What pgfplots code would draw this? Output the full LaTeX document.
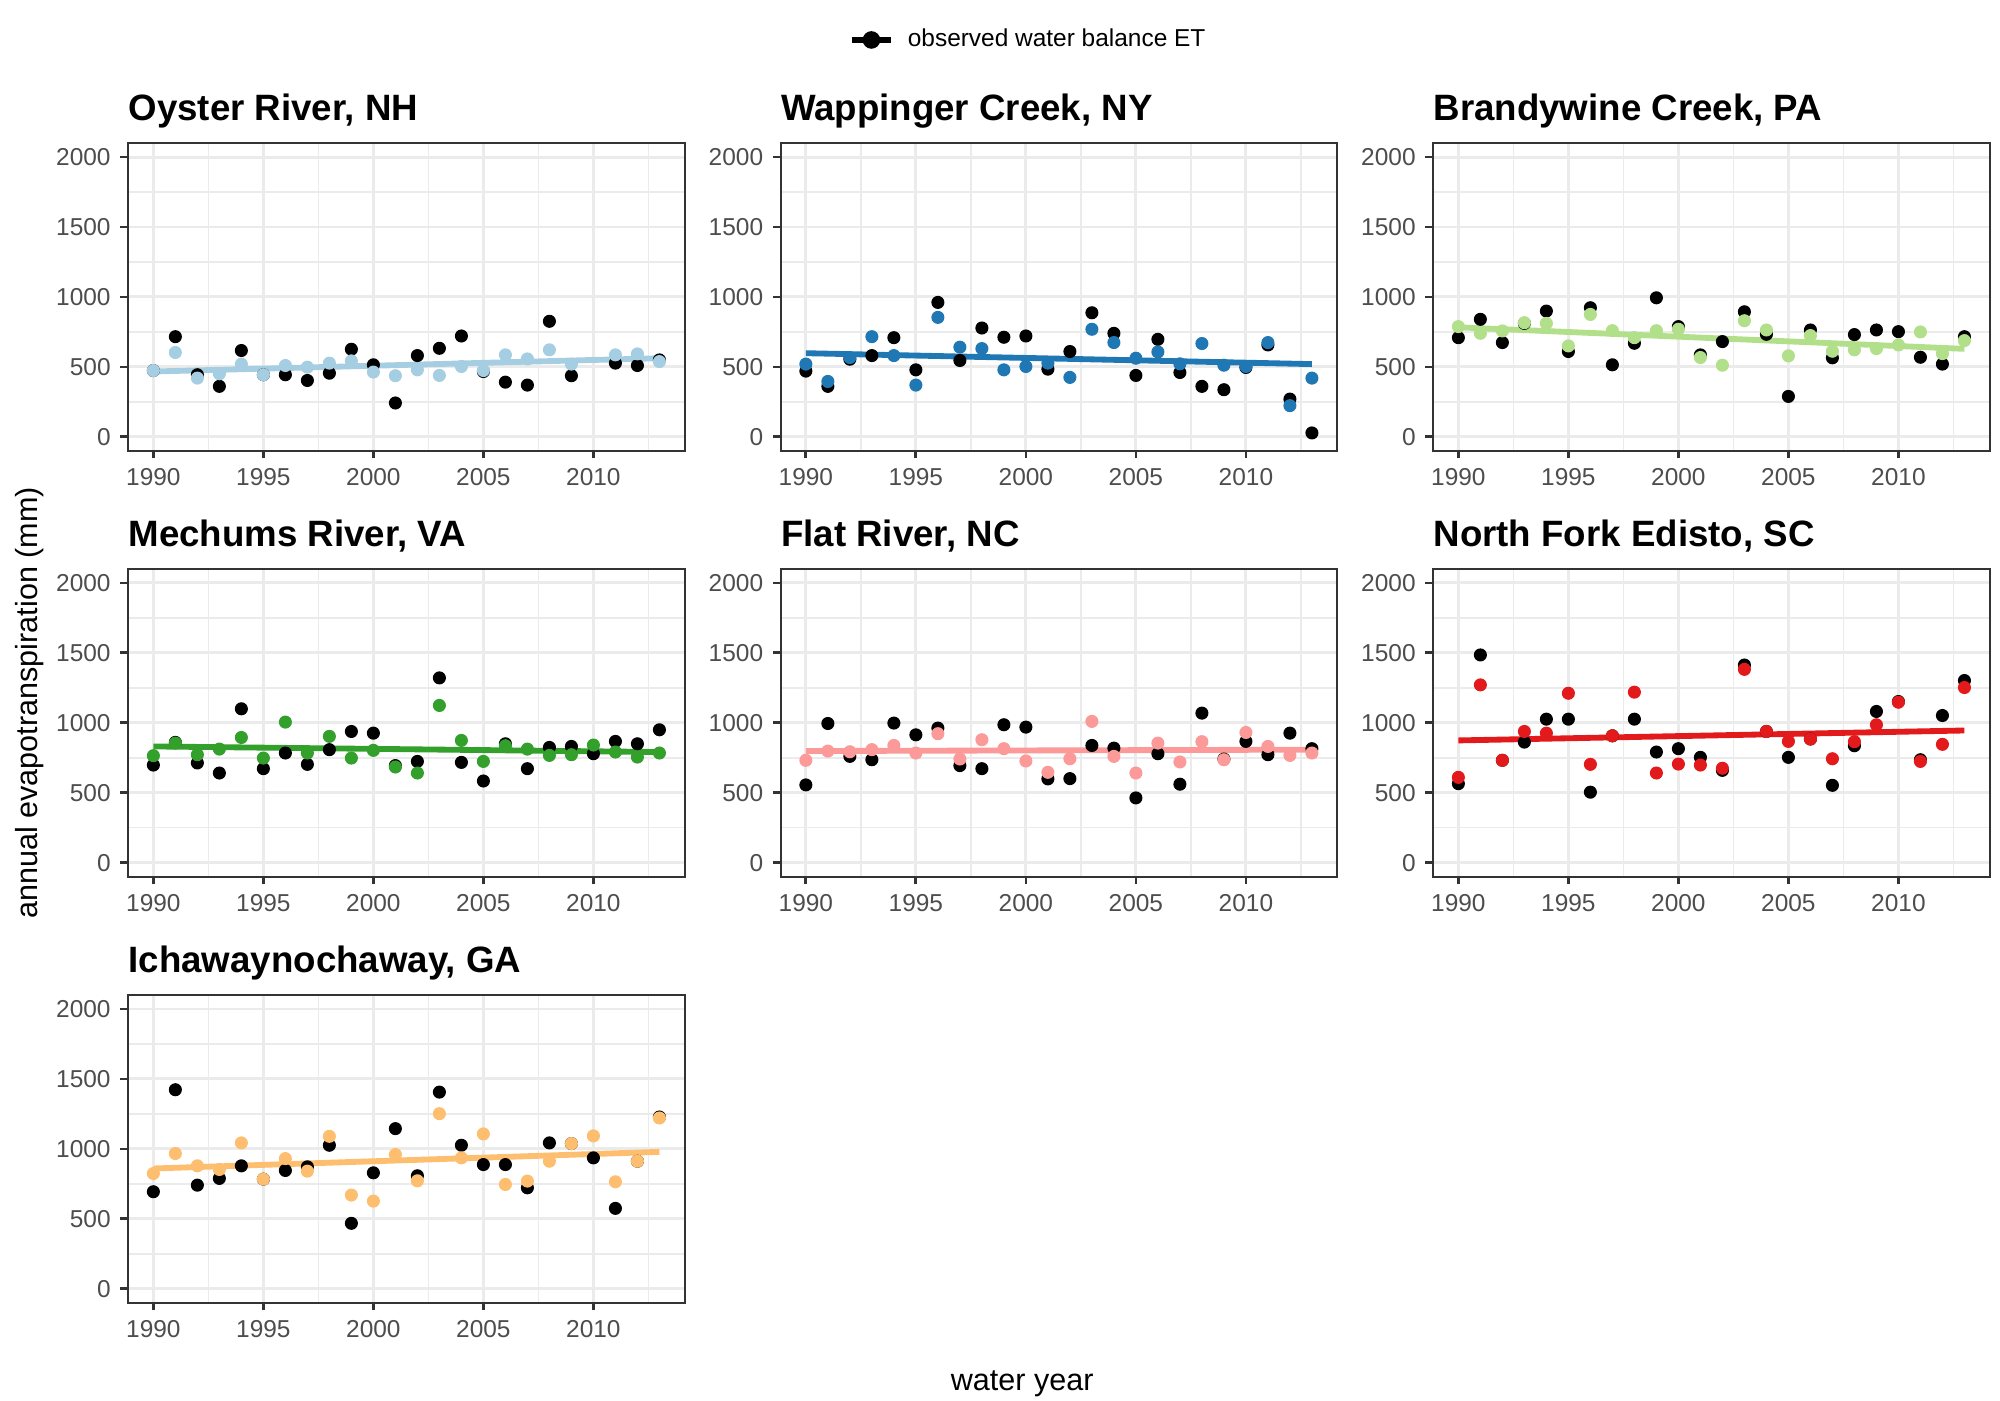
\documentclass[border=0pt]{standalone}
\usepackage{fontspec}
\setmainfont{Liberation Sans}
\usepackage{pgfplots}
\usepackage{pgfplotstable}
\pgfplotsset{compat=1.18}
\definecolor{grey92}{HTML}{EBEBEB}
\definecolor{grey30}{HTML}{4D4D4D}
\definecolor{grey20}{HTML}{333333}
\definecolor{cA}{HTML}{A6CEE3}
\definecolor{cB}{HTML}{1F78B4}
\definecolor{cC}{HTML}{B2DF8A}
\definecolor{cD}{HTML}{33A02C}
\definecolor{cE}{HTML}{FB9A99}
\definecolor{cF}{HTML}{E31A1C}
\definecolor{cG}{HTML}{FDBF6F}

\pgfplotstableread{
year obs mod
1990 474 474
1991 716 603
1992 444 420
1993 361 451
1994 617 520
1995 444 444
1996 444 510
1997 403 498
1998 455 527
1999 626 543
2000 515 463
2001 242 437
2002 581 479
2003 633 439
2004 721 503
2005 467 474
2006 391 586
2007 370 557
2008 826 622
2009 437 520
2011 527 586
2012 510 593
2013 550 538
}\dA
\pgfplotstableread{
year obs mod
1990 470 520
1991 361 396
1992 555 567
1993 581 716
1994 709 581
1995 479 370
1996 961 854
1997 546 641
1998 778 631
1999 712 479
2000 721 503
2001 484 527
2002 610 425
2003 887 769
2004 740 674
2005 439 562
2006 697 607
2007 460 522
2008 361 667
2009 337 512
2010 496 503
2011 657 674
2012 270 223
2013 28 420
}\dB
\pgfplotstableread{
year obs mod
1990 709 788
1991 840 740
1992 674 757
1993 811 816
1994 899 811
1995 610 650
1996 923 875
1997 515 759
1998 669 709
1999 994 759
2000 788 769
2001 586 567
2002 681 512
2003 894 830
2004 733 764
2005 289 579
2006 764 724
2007 565 612
2008 731 622
2009 764 631
2010 752 657
2011 569 750
2012 520 595
2013 716 688
}\dC
\pgfplotstableread{
year obs mod
1990 698 765
1991 860 855
1992 713 772
1993 641 812
1994 1100 895
1995 672 748
1996 784 1005
1997 703 784
1998 808 903
1999 938 748
2000 926 803
2001 694 684
2002 724 641
2003 1321 1124
2004 717 874
2005 584 724
2006 850 836
2007 672 812
2008 824 767
2009 831 772
2010 779 841
2011 867 791
2012 850 755
2013 950 784
}\dD
\pgfplotstableread{
year obs mod
1990 556 732
1991 995 798
1992 760 793
1993 736 808
1994 998 838
1995 914 784
1996 962 922
1997 694 741
1998 672 879
1999 986 815
2000 969 727
2001 599 646
2002 601 743
2003 838 1010
2004 819 760
2005 463 641
2006 779 855
2007 561 720
2008 1069 865
2009 741 736
2010 867 931
2011 772 831
2012 926 767
2013 815 784
}\dE
\pgfplotstableread{
year obs mod
1990 565 610
1991 1485 1271
1992 732 732
1993 862 938
1994 1026 926
1995 1026 1211
1996 504 703
1997 907 907
1998 1026 1219
1999 791 641
2000 815 705
2001 753 698
2002 660 675
2003 1413 1382
2004 938 938
2005 753 867
2006 884 884
2007 553 743
2008 836 865
2009 1081 986
2010 1152 1147
2011 736 724
2012 1052 846
2013 1302 1252
}\dF
\pgfplotstableread{
year obs mod
1990 694 824
1991 1423 967
1992 741 879
1993 789 853
1994 879 1043
1995 784 784
1996 846 931
1997 872 841
1998 1026 1090
1999 468 670
2000 829 627
2001 1145 960
2002 808 772
2003 1406 1252
2004 1026 936
2005 888 1107
2006 888 746
2007 722 770
2008 1043 912
2009 1038 1038
2010 936 1093
2011 575 765
2012 912 912
2013 1228 1221
}\dG

\pgfplotsset{
  panel/.style={
    width=200.4pt, height=110.8pt, scale only axis,
    anchor=north west,
    xmin=1988.85, xmax=2014.15, ymin=-100, ymax=2100,
    xtick={1990,1995,2000,2005,2010},
    ytick={0,500,1000,1500,2000},
    minor xtick={1992.5,1997.5,2002.5,2007.5,2012.5},
    minor ytick={250,750,1250,1750},
    grid=both,
    major grid style={grey92, line width=1.07pt},
    minor grid style={grey92, line width=0.53pt},
    minor tick length=0pt, major tick length=2.75pt, tick align=outside,
    tick pos=left,
    major tick style={grey20, line width=1pt},
    axis line style={grey20, line width=0.7pt},
    ticklabel style={font=\fontsize{8.8}{10}\selectfont, text=grey30},
    /pgf/number format/1000 sep={},
    /pgf/number format/assume math mode=true,
    title style={at={(0,1)}, anchor=base west, yshift=2pt, inner sep=0pt,
      font=\bfseries\fontsize{13.2}{15}\selectfont},
  },
  obsmark/.style={only marks, mark=*, mark size=2.15pt, black, mark options={draw=none, fill=black}, forget plot},
  modmark/.style={only marks, mark=*, mark size=2.15pt, #1, mark options={draw=none, fill=#1}, forget plot},
  trend/.style={no marks, #1, line width=2.1pt, forget plot},
}

\begin{document}
\begin{tikzpicture}
\useasboundingbox (0,0) rectangle (720pt,-504pt);

% Row 1
\begin{axis}[panel, at={(46.1pt,-51.5pt)}, title={Oyster River, NH}]
\addplot[obsmark] table[x=year,y=obs]{\dA};
\addplot[trend=cA] coordinates {(1990,467) (2013,562)};
\addplot[modmark=cA] table[x=year,y=mod]{\dA};
\end{axis}

\begin{axis}[panel, at={(281.0pt,-51.5pt)}, title={Wappinger Creek, NY},
  legend style={at={(0.448,1.335)}, anchor=center, draw=none, fill=none,
    font=\fontsize{8.8}{10}\selectfont, inner sep=0pt},
  legend image code/.code={\draw[mark repeat=2,mark phase=2,#1] plot coordinates {(0cm,0cm) (0.25cm,0cm) (0.5cm,0cm)};}]
\addlegendimage{black, line width=2pt, mark=*, mark size=2.15pt, mark options={draw=none, fill=black}}
\addlegendentry{\hspace{3pt}observed water balance ET}
\addplot[obsmark] table[x=year,y=obs]{\dB};
\addplot[trend=cB] coordinates {(1990,598) (2013,520)};
\addplot[modmark=cB] table[x=year,y=mod]{\dB};
\end{axis}

\begin{axis}[panel, at={(515.9pt,-51.5pt)}, title={Brandywine Creek, PA}]
\addplot[obsmark] table[x=year,y=obs]{\dC};
\addplot[trend=cC] coordinates {(1990,783) (2013,629)};
\addplot[modmark=cC] table[x=year,y=mod]{\dC};
\end{axis}

% Row 2
\begin{axis}[panel, at={(46.1pt,-204.8pt)}, title={Mechums River, VA}]
\addplot[obsmark] table[x=year,y=obs]{\dD};
\addplot[trend=cD] coordinates {(1990,831) (2013,791)};
\addplot[modmark=cD] table[x=year,y=mod]{\dD};
\end{axis}

\begin{axis}[panel, at={(281.0pt,-204.8pt)}, title={Flat River, NC}]
\addplot[obsmark] table[x=year,y=obs]{\dE};
\addplot[trend=cE] coordinates {(1990,798) (2013,808)};
\addplot[modmark=cE] table[x=year,y=mod]{\dE};
\end{axis}

\begin{axis}[panel, at={(515.9pt,-204.8pt)}, title={North Fork Edisto, SC}]
\addplot[obsmark] table[x=year,y=obs]{\dF};
\addplot[trend=cF] coordinates {(1990,874) (2013,945)};
\addplot[modmark=cF] table[x=year,y=mod]{\dF};
\end{axis}

% Row 3
\begin{axis}[panel, at={(46.1pt,-358.2pt)}, title={Ichawaynochaway, GA}]
\addplot[obsmark] table[x=year,y=obs]{\dG};
\addplot[trend=cG] coordinates {(1990,860) (2013,979)};
\addplot[modmark=cG] table[x=year,y=mod]{\dG};
\end{axis}

\node[rotate=90, anchor=base, font=\fontsize{11}{13}\selectfont] at (13.4pt,-253pt) {annual evapotranspiration (mm)};
\node[anchor=base, font=\fontsize{11}{13}\selectfont] at (368pt,-500.4pt) {water year};
\end{tikzpicture}
\end{document}
